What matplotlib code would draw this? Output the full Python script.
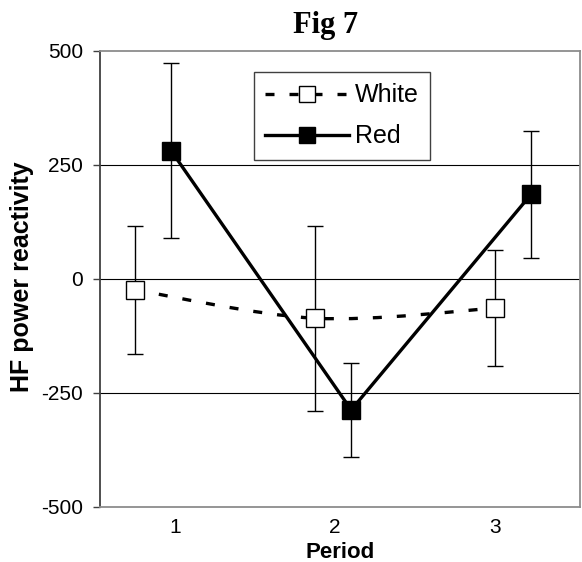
import numpy as np
import matplotlib
matplotlib.use('Agg')
import matplotlib.pyplot as plt
from matplotlib.path import Path
from matplotlib.patches import PathPatch
from matplotlib.lines import Line2D

# ---- data ----
periods = [1, 2, 3]
period_labels = ['1', '2', '3']
white_x = [0.75, 1.875, 3.0]
red_x = [0.975, 2.1, 3.225]
white_mean = [-24, -86, -64]
white_err = [140, 203, 127]
red_mean = [281, -287, 186]
red_err = [192, 103, 139]
yticks = [-500, -250, 0, 250, 500]
grid_vals = [-250, 0, 250]

plt.rcParams['font.family'] = ['Liberation Sans', 'DejaVu Sans']

W, H = 582, 562
fig = plt.figure(figsize=(W / 100, H / 100), dpi=100)
ax = fig.add_axes([100 / W, 1 - 507 / H, 480 / W, (507 - 51) / H])

ax.set_xlim(0.53, 3.53)
ax.set_ylim(-500, 500)

for g in grid_vals:
    ax.axhline(g, color='black', lw=0.8, zorder=1)

# smoothed dashed line for White (Excel-style smoothing)
pts = np.column_stack([white_x, white_mean]).astype(float)
verts = [pts[0]]
codes = [Path.MOVETO]
n = len(pts)
for i in range(n - 1):
    p_prev = pts[i - 1] if i > 0 else pts[i]
    p_next2 = pts[i + 2] if i + 2 < n else pts[i + 1]
    c1 = pts[i] + (pts[i + 1] - p_prev) / 6
    c2 = pts[i + 1] - (p_next2 - pts[i]) / 6
    verts += [c1, c2, pts[i + 1]]
    codes += [Path.CURVE4] * 3
patch = PathPatch(Path(verts, codes), fill=False, edgecolor='black', lw=2.4,
                  linestyle=(0, (2.7, 4.5)), capstyle='butt', zorder=3)
ax.add_patch(patch)

# Red line
ax.plot(red_x, red_mean, color='black', lw=2.4, zorder=3)

# error bars
ax.errorbar(white_x, white_mean, yerr=white_err, fmt='none', ecolor='black',
            elinewidth=1, capsize=5.5, capthick=1, zorder=2)
ax.errorbar(red_x, red_mean, yerr=red_err, fmt='none', ecolor='black',
            elinewidth=1, capsize=6, capthick=1, zorder=2)

# markers
ax.plot(white_x, white_mean, linestyle='none', marker='s', ms=12.5,
        mfc='white', mec='black', mew=1, zorder=5)
ax.plot(red_x, red_mean, linestyle='none', marker='s', ms=13,
        mfc='black', mec='black', mew=1, zorder=5)

# axes styling
ax.set_xticks(periods)
ax.set_xticklabels(period_labels)
ax.set_yticks(yticks)
ax.set_yticklabels([str(v) for v in yticks])
ax.tick_params(axis='x', length=0, pad=8, labelsize=15)
ax.tick_params(axis='y', length=5, width=1, pad=7, labelsize=15, color='#404040')
ax.spines['left'].set_color('#404040')
ax.spines['left'].set_linewidth(1.3)
for s in ['top', 'bottom', 'right']:
    ax.spines[s].set_color('#8c8c8c')
    ax.spines[s].set_linewidth(1.3)

# legend
h_white = Line2D([], [], color='black', lw=2.4, linestyle=(0, (2.7, 4.5)),
                 marker='s', ms=11.5, mfc='white', mec='black', mew=1)
h_red = Line2D([], [], color='black', lw=2.4, marker='s', ms=11.5,
               mfc='black', mec='black', mew=1)
leg = fig.legend([h_white, h_red], ['White', 'Red'], loc='upper left',
                 bbox_to_anchor=(254 / W, 1 - 72 / H), borderaxespad=0,
                 fontsize=18, handlelength=3.36, handletextpad=0.24,
                 labelspacing=0.68, borderpad=0.45, fancybox=False,
                 framealpha=1, edgecolor='#404040', numpoints=1)
leg.get_frame().set_linewidth(1)

# texts
fig.text(325.5 / W, 1 - 33 / H, 'Fig 7', ha='center', va='baseline',
         fontsize=22, fontweight='bold', family=['Liberation Serif', 'DejaVu Serif'])
fig.text(340 / W, 1 - 558 / H, 'Period', ha='center', va='baseline',
         fontsize=16, fontweight='bold')
fig.text(22 / W, 1 - 277 / H, 'HF power reactivity', ha='center', va='center',
         rotation=90, fontsize=18, fontweight='bold')

fig.savefig('out.png', dpi=100)
